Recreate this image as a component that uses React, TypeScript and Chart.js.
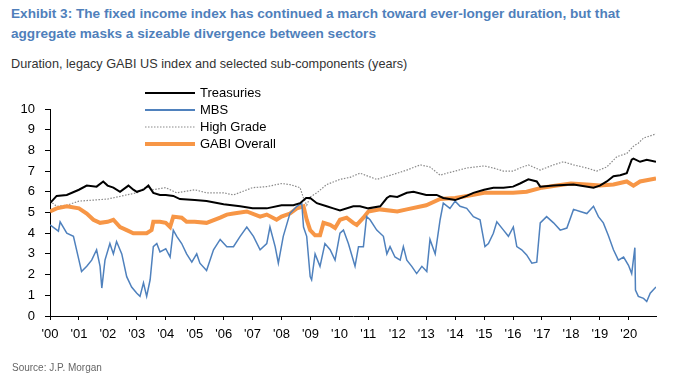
import React, { useEffect, useRef } from "react";
import { Chart, registerables } from "chart.js";

Chart.register(...registerables);

const FONT = "'Liberation Sans', Arial, Helvetica, sans-serif";

// x = years since 2000 (decimal), y = duration in years
const tsyYears = [0, 0.23, 0.58, 1.0, 1.27, 1.61, 1.84, 1.99, 2.19, 2.42, 2.71, 2.88, 3.0, 3.23, 3.4, 3.57, 3.8, 4.0, 4.26, 4.49, 5.0, 5.41, 6.0, 6.57, 7.0, 7.49, 8.0, 8.41, 8.64, 8.85, 8.99, 9.22, 9.56, 9.79, 10.02, 10.48, 10.71, 11.0, 11.41, 11.64, 11.75, 12.0, 12.33, 12.56, 13.0, 13.36, 13.59, 14.0, 14.4, 14.63, 15.0, 15.32, 15.67, 16.0, 16.24, 16.53, 16.82, 16.94, 17.4, 18.09, 18.78, 19.0, 19.24, 19.47, 19.7, 19.93, 20.1, 20.16, 20.39, 20.62, 20.94];
const tsyValues = [5.45, 5.8, 5.85, 6.1, 6.3, 6.25, 6.5, 6.3, 6.2, 6.0, 6.3, 6.1, 6.0, 6.1, 6.3, 5.95, 5.85, 5.85, 5.8, 5.65, 5.6, 5.55, 5.4, 5.3, 5.2, 5.2, 5.35, 5.35, 5.45, 5.7, 5.7, 5.45, 5.3, 5.2, 5.1, 5.3, 5.3, 5.2, 5.3, 5.7, 5.8, 5.75, 5.95, 6.0, 5.85, 5.85, 5.7, 5.6, 5.8, 5.95, 6.1, 6.2, 6.2, 6.25, 6.4, 6.6, 6.5, 6.25, 6.3, 6.35, 6.2, 6.3, 6.5, 6.75, 6.8, 6.9, 7.55, 7.6, 7.45, 7.55, 7.45];

const mbsYears = [0, 0.29, 0.35, 0.58, 0.81, 1.0, 1.09, 1.27, 1.44, 1.61, 1.73, 1.79, 1.9, 2.07, 2.19, 2.3, 2.48, 2.65, 2.82, 3.0, 3.11, 3.23, 3.34, 3.46, 3.57, 3.69, 3.8, 4.0, 4.15, 4.26, 4.38, 4.55, 4.72, 4.9, 5.07, 5.18, 5.41, 5.65, 5.88, 6.11, 6.34, 6.57, 6.8, 7.03, 7.26, 7.49, 7.6, 7.78, 7.89, 8.06, 8.29, 8.53, 8.7, 8.76, 8.87, 8.99, 9.04, 9.16, 9.33, 9.5, 9.68, 9.85, 10.02, 10.14, 10.31, 10.54, 10.66, 10.83, 10.94, 11.06, 11.29, 11.52, 11.64, 11.75, 11.92, 12.1, 12.21, 12.33, 12.5, 12.67, 12.85, 13.02, 13.13, 13.31, 13.48, 13.59, 13.82, 14.0, 14.17, 14.4, 14.63, 14.86, 15.03, 15.15, 15.32, 15.44, 15.67, 15.84, 16.01, 16.13, 16.3, 16.47, 16.65, 16.82, 16.94, 17.16, 17.4, 17.63, 17.86, 18.09, 18.32, 18.55, 18.78, 18.95, 19.12, 19.29, 19.47, 19.64, 19.82, 19.99, 20.1, 20.21, 20.23, 20.33, 20.51, 20.62, 20.74, 20.94];
const mbsValues = [4.4, 4.1, 4.55, 4.0, 3.85, 2.7, 2.15, 2.4, 2.7, 3.2, 2.4, 1.35, 2.7, 3.5, 3.0, 3.6, 3.0, 1.9, 1.4, 1.1, 0.95, 1.6, 0.95, 1.75, 3.35, 3.5, 3.1, 3.25, 2.85, 4.15, 3.85, 3.5, 3.0, 2.6, 3.0, 2.55, 2.2, 3.2, 3.7, 3.35, 3.35, 3.85, 4.3, 3.85, 3.2, 3.5, 4.3, 3.35, 2.55, 3.85, 4.95, 5.3, 5.45, 4.3, 3.85, 1.9, 1.75, 3.0, 2.4, 3.5, 3.2, 2.7, 4.0, 4.15, 3.5, 2.4, 3.35, 3.35, 4.8, 4.65, 4.15, 3.85, 3.0, 3.35, 2.85, 2.7, 3.35, 2.7, 2.4, 2.05, 2.4, 2.15, 3.7, 3.0, 4.65, 5.45, 5.2, 5.55, 5.3, 5.2, 4.8, 4.65, 3.35, 3.5, 4.0, 4.55, 4.15, 3.85, 4.3, 3.35, 3.2, 2.95, 2.55, 2.6, 4.5, 4.8, 4.5, 4.15, 4.25, 5.15, 5.05, 4.95, 5.3, 4.8, 4.5, 3.9, 3.2, 2.7, 2.85, 2.45, 2.05, 3.3, 1.25, 0.95, 0.85, 0.7, 1.1, 1.4];

const hgYears = [0, 0.23, 0.58, 1.0, 1.5, 1.99, 2.65, 3.0, 3.34, 3.57, 4.0, 4.38, 5.0, 5.41, 6.0, 6.34, 7.0, 7.49, 8.0, 8.29, 8.64, 8.76, 8.87, 8.99, 9.22, 9.56, 10.02, 10.37, 10.71, 11.0, 11.29, 11.64, 12.0, 12.33, 12.79, 13.13, 13.48, 13.71, 14.0, 14.4, 15.0, 15.32, 15.67, 16.0, 16.24, 16.53, 16.94, 17.4, 17.74, 18.09, 18.55, 18.89, 19.24, 19.59, 19.93, 20.16, 20.33, 20.51, 20.74, 20.94];
const hgValues = [5.55, 5.3, 5.35, 5.55, 5.6, 5.65, 5.85, 5.95, 6.25, 6.1, 6.2, 5.95, 6.1, 5.95, 5.95, 5.85, 6.2, 6.25, 6.4, 6.35, 6.2, 5.7, 5.35, 5.75, 5.95, 6.35, 6.6, 6.7, 6.9, 6.75, 6.6, 6.75, 6.9, 7.05, 7.3, 7.2, 6.8, 6.9, 7.0, 7.15, 7.25, 7.15, 7.0, 7.0, 7.15, 7.3, 7.05, 7.3, 7.45, 7.3, 7.15, 7.0, 7.2, 7.7, 7.85, 8.2, 8.35, 8.6, 8.7, 8.8];

const gabiYears = [0, 0.23, 0.58, 1.0, 1.27, 1.5, 1.73, 1.99, 2.19, 2.42, 2.65, 2.88, 3.11, 3.34, 3.51, 3.57, 3.8, 4.0, 4.15, 4.26, 4.55, 4.72, 5.0, 5.41, 5.88, 6.11, 6.34, 6.8, 7.26, 7.49, 7.83, 8.0, 8.29, 8.53, 8.76, 8.87, 8.99, 9.16, 9.33, 9.45, 9.68, 9.85, 10.02, 10.25, 10.48, 10.6, 10.83, 11.0, 11.41, 12.0, 12.33, 13.0, 13.48, 14.0, 14.63, 15.0, 15.55, 16.0, 16.47, 17.0, 17.51, 18.0, 18.55, 19.0, 19.47, 19.93, 20.16, 20.39, 20.94];
const gabiValues = [5.05, 5.2, 5.3, 5.2, 4.95, 4.65, 4.5, 4.55, 4.65, 4.3, 4.15, 4.0, 4.0, 4.0, 4.15, 4.55, 4.55, 4.5, 4.3, 4.8, 4.75, 4.55, 4.55, 4.5, 4.75, 4.9, 4.95, 5.05, 4.8, 4.9, 4.65, 4.8, 4.95, 5.2, 5.3, 4.65, 4.15, 3.9, 3.9, 4.5, 4.4, 4.25, 4.65, 4.75, 4.5, 4.4, 4.75, 5.05, 5.15, 5.05, 5.15, 5.35, 5.65, 5.7, 5.85, 5.95, 5.95, 5.95, 6.0, 6.2, 6.3, 6.4, 6.35, 6.3, 6.35, 6.5, 6.3, 6.5, 6.65];

const xTickYears = [0, 1, 2, 3, 4, 5, 6, 7, 8, 9, 10, 11, 12, 13, 14, 15, 16, 17, 18, 19, 20];
const xTickLabels = ["'00", "'01", "'02", "'03", "'04", "'05", "'06", "'07", "'08", "'09", "'10", "'11", "'12", "'13", "'14", "'15", "'16", "'17", "'18", "'19", "'20"];

const legendItems = [
  { label: "Treasuries", color: "#000000", width: 2, dash: [] as number[] },
  { label: "MBS", color: "#4f81bd", width: 2, dash: [] as number[] },
  { label: "High Grade", color: "#8a8a8a", width: 1.2, dash: [1.5, 1.5] },
  { label: "GABI Overall", color: "#f79646", width: 4, dash: [] as number[] },
];

const toPoints = (xs: number[], ys: number[]) => xs.map((x, i) => ({ x, y: ys[i] }));

const legendPlugin = {
  id: "customLegend",
  afterDraw(chart: any) {
    const ctx = chart.ctx;
    ctx.save();
    const rows = [93, 110, 127, 144];
    legendItems.forEach((it, i) => {
      const y = rows[i];
      ctx.beginPath();
      ctx.setLineDash(it.dash);
      ctx.strokeStyle = it.color;
      ctx.lineWidth = it.width;
      ctx.moveTo(145, y);
      ctx.lineTo(195, y);
      ctx.stroke();
      ctx.setLineDash([]);
      ctx.fillStyle = "#000";
      ctx.font = `13px ${FONT}`;
      ctx.textBaseline = "middle";
      ctx.textAlign = "left";
      ctx.fillText(it.label, 200, y + 0.5);
    });
    ctx.restore();
  },
};

export default function App() {
  const ref = useRef<HTMLCanvasElement | null>(null);

  useEffect(() => {
    if (!ref.current) return;
    const chart = new Chart(ref.current, {
      type: "line",
      data: {
        datasets: [
          {
            label: "High Grade",
            data: toPoints(hgYears, hgValues),
            borderColor: "#8a8a8a",
            borderWidth: 1.2,
            borderDash: [1.5, 1.5],
            pointRadius: 0,
            tension: 0,
            order: 4,
          },
          {
            label: "GABI Overall",
            data: toPoints(gabiYears, gabiValues),
            borderColor: "#f79646",
            borderWidth: 4,
            pointRadius: 0,
            tension: 0,
            order: 3,
          },
          {
            label: "MBS",
            data: toPoints(mbsYears, mbsValues),
            borderColor: "#4f81bd",
            borderWidth: 1.5,
            pointRadius: 0,
            tension: 0,
            order: 2,
          },
          {
            label: "Treasuries",
            data: toPoints(tsyYears, tsyValues),
            borderColor: "#000000",
            borderWidth: 2,
            pointRadius: 0,
            tension: 0,
            order: 1,
          },
        ],
      },
      options: {
        animation: false,
        responsive: false,
        maintainAspectRatio: false,
        devicePixelRatio: 1,
        layout: { padding: { top: 109, right: 24, left: 0, bottom: 0 } },
        plugins: {
          legend: { display: false },
          tooltip: { enabled: false },
          title: { display: false },
        },
        scales: {
          x: {
            type: "linear",
            min: 0,
            max: 20.94,
            afterBuildTicks: (scale: any) => {
              scale.ticks = xTickYears.map((v) => ({ value: v }));
            },
            afterFit: (scale: any) => {
              scale.height = 63;
            },
            ticks: {
              autoSkip: false,
              maxRotation: 0,
              padding: 7,
              color: "#000",
              font: { family: FONT, size: 13 },
              callback: (v: any) => {
                const i = xTickYears.indexOf(Number(v));
                return i >= 0 ? xTickLabels[i] : "";
              },
            },
            grid: { drawOnChartArea: false, tickLength: 4, color: "#000", lineWidth: 1 },
            border: { display: true, color: "#000", width: 1 },
          },
          y: {
            min: 0,
            max: 10,
            afterFit: (scale: any) => {
              scale.width = 50;
            },
            ticks: {
              stepSize: 1,
              padding: 10,
              color: "#000",
              font: { family: FONT, size: 13 },
            },
            grid: { drawOnChartArea: false, tickLength: 5, color: "#000", lineWidth: 1 },
            border: { display: true, color: "#000", width: 1 },
          },
        },
      },
      plugins: [legendPlugin],
    } as any);
    return () => chart.destroy();
  }, []);

  return (
    <div style={{ position: "absolute", left: 0, top: 0, width: 680, height: 379, background: "#fff", fontFamily: FONT }}>
      <div
        style={{
          position: "absolute",
          left: 11,
          top: 4,
          fontSize: 13.6,
          fontWeight: "bold",
          lineHeight: "19.5px",
          color: "#4f7fbb",
          whiteSpace: "nowrap",
        }}
      >
        Exhibit 3: The fixed income index has continued a march toward ever-longer duration, but that
        <br />
        aggregate masks a sizeable divergence between sectors
      </div>
      <div
        style={{
          position: "absolute",
          left: 11,
          top: 57,
          fontSize: 12.7,
          lineHeight: "15px",
          color: "#333",
          whiteSpace: "nowrap",
        }}
      >
        Duration, legacy GABI US index and selected sub-components (years)
      </div>
      <canvas ref={ref} width={680} height={379} style={{ position: "absolute", left: 0, top: 0, width: 680, height: 379 }} />
      <div
        style={{
          position: "absolute",
          left: 12,
          top: 362,
          fontSize: 10,
          lineHeight: "12px",
          color: "#666",
          whiteSpace: "nowrap",
        }}
      >
        Source: J.P. Morgan
      </div>
    </div>
  );
}
